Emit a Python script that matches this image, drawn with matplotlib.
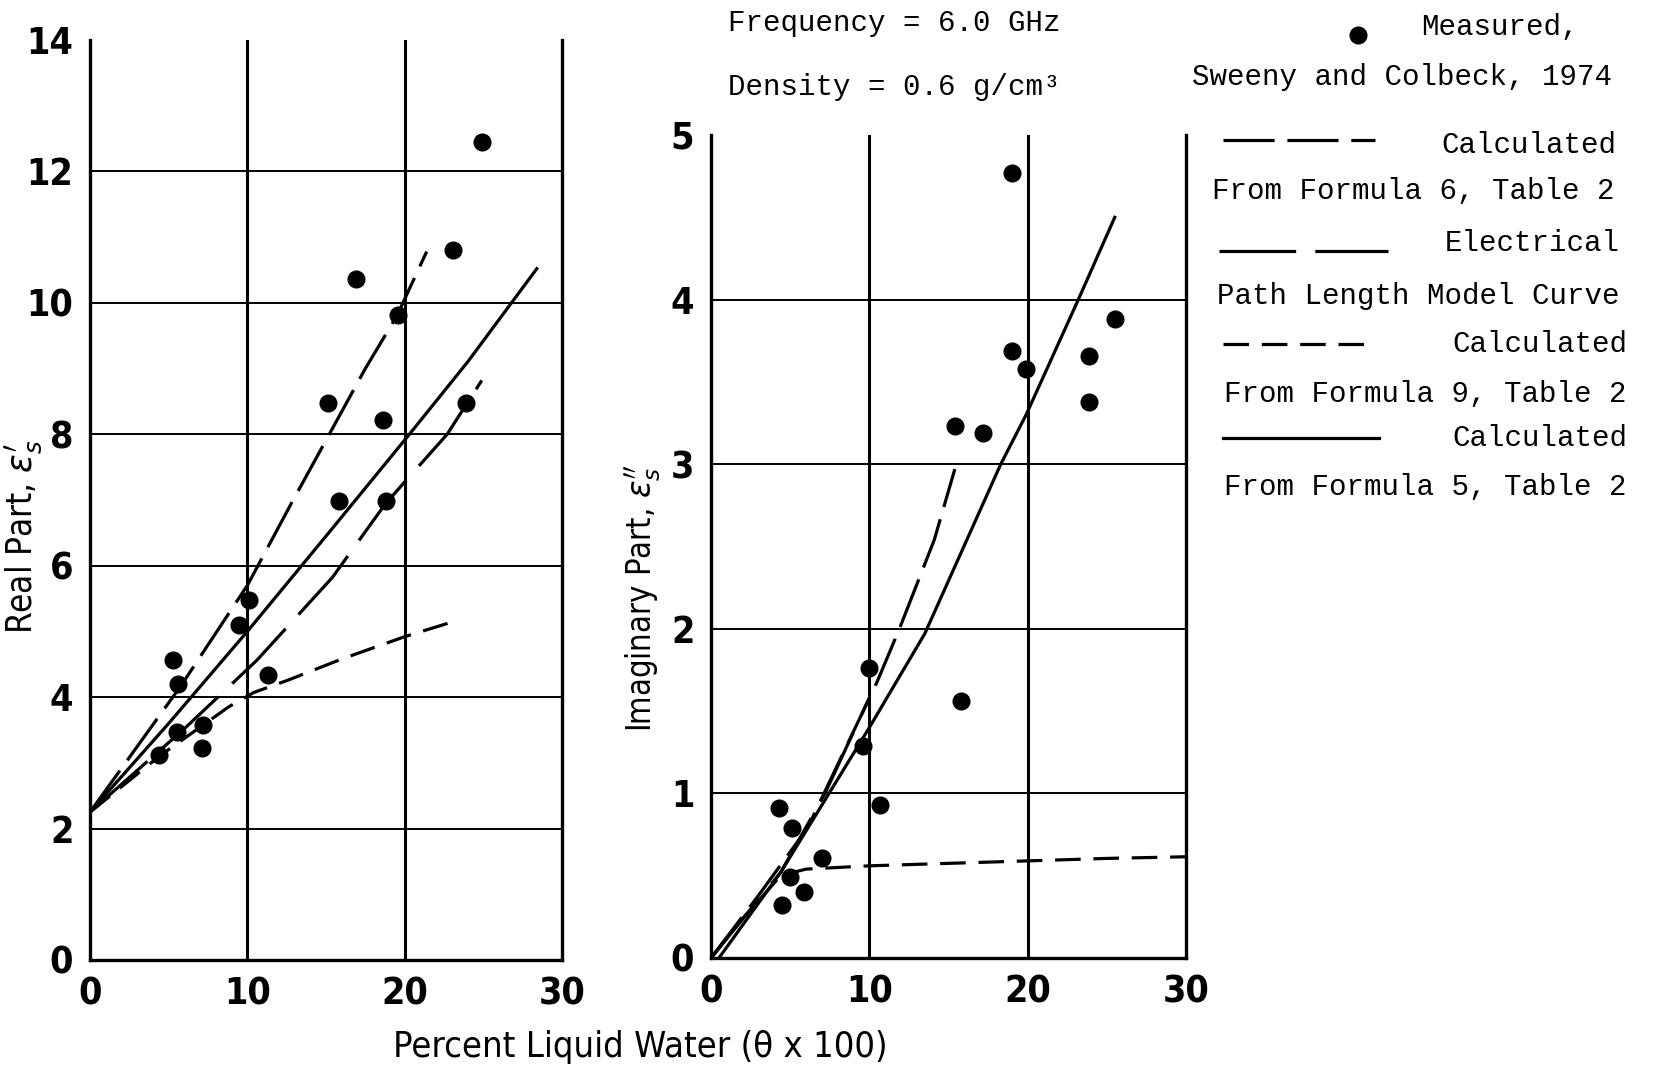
import matplotlib
matplotlib.use("Agg")
import matplotlib.pyplot as plt
from matplotlib.lines import Line2D

W, H = 1659, 1068

# measured points, Sweeny and Colbeck 1974 (percent liquid water)
real_x = [24.9, 23.1, 16.9, 19.6, 15.1, 18.6, 23.9, 15.8, 18.8, 10.1, 9.5, 11.3, 5.3, 5.6, 5.5, 7.2, 7.1, 4.4]
real_y = [12.45, 10.8, 10.37, 9.82, 8.48, 8.22, 8.48, 6.98, 6.98, 5.48, 5.1, 4.33, 4.57, 4.2, 3.47, 3.57, 3.23, 3.12]
imag_x = [19.0, 25.5, 23.9, 19.0, 19.9, 23.9, 15.4, 17.2, 15.8, 10.0, 9.6, 10.7, 4.3, 5.1, 7.0, 5.0, 5.9, 4.5]
imag_y = [4.77, 3.88, 3.66, 3.69, 3.58, 3.38, 3.23, 3.19, 1.56, 1.76, 1.29, 0.93, 0.91, 0.79, 0.61, 0.49, 0.40, 0.32]

# real part curves
real_f6_x = [0, 5.8, 10, 12.8, 17.5, 19.5, 21.4]
real_f6_y = [2.25, 4.18, 5.7, 6.95, 9.0, 9.8, 10.78]
real_epl_x = [0, 6, 10.6, 15.4, 18.8, 22.7, 24.9]
real_epl_y = [2.25, 3.52, 4.56, 5.82, 6.95, 8.0, 8.82]
real_f9_x = [0, 4.4, 8.8, 10.4, 12.6, 16, 20, 23.1]
real_f9_y = [2.25, 3.1, 3.85, 4.07, 4.26, 4.58, 4.92, 5.15]
real_f5_x = [0, 5, 10, 15, 20.3, 24, 28.4]
real_f5_y = [2.25, 3.6, 5.0, 6.45, 8.0, 9.1, 10.52]

# imaginary part curves
imag_f6_x = [0, 3, 6.1, 10.5, 11.9, 14.1, 15.4]
imag_f6_y = [0, 0.38, 0.79, 1.68, 2.0, 2.54, 2.97]
imag_epl_x = [0, 4.4, 7.2, 10]
imag_epl_y = [0, 0.52, 1.0, 1.58]
imag_f9_x = [0, 2, 4.4, 6, 10, 15, 20, 25, 30]
imag_f9_y = [0, 0.24, 0.5, 0.54, 0.56, 0.575, 0.59, 0.605, 0.615]
imag_f5_x = [0.5, 4.4, 10, 13.5, 18.3, 19.9, 23.2, 25.5]
imag_f5_y = [0, 0.52, 1.4, 1.97, 3.0, 3.3, 4.0, 4.5]

x_ticks = [0, 10, 20, 30]
real_ticks = [0, 2, 4, 6, 8, 10, 12, 14]
imag_ticks = [0, 1, 2, 3, 4, 5]

NARROW = ["DejaVu Sans"]
MONO = ["Liberation Mono", "DejaVu Sans Mono"]
LW = 2.3
F6 = (16, 4)
EPL = (24, 6)
F9 = (8, 4)


def fig_xy(x, y):
    return x / W, 1 - y / H


def setup(ax, yticks):
    ax.set_xlim(0, 30)
    ax.set_ylim(yticks[0], yticks[-1])
    ax.set_xticks(x_ticks)
    ax.set_yticks(yticks)
    ax.tick_params(length=0, labelsize=27, pad=12)
    for lab in ax.get_xticklabels() + ax.get_yticklabels():
        lab.set_family(NARROW)
        lab.set_stretch("condensed")
        lab.set_weight("bold")
    ax.spines["top"].set_visible(False)
    for s in ["left", "right", "bottom"]:
        ax.spines[s].set_linewidth(2.4)
    for v in x_ticks[1:-1]:
        ax.axvline(v, color="k", lw=2.2, zorder=1)
    for v in yticks[1:-1]:
        ax.axhline(v, color="k", lw=1.4, zorder=1)


fig = plt.figure(figsize=(W / 100, H / 100), dpi=100)

ax1 = fig.add_axes([90 / W, 1 - 960 / H, 472 / W, 920 / H])
setup(ax1, real_ticks)
ax1.plot(real_f6_x, real_f6_y, color="k", lw=LW, dashes=F6)
ax1.plot(real_epl_x, real_epl_y, color="k", lw=LW, dashes=EPL)
ax1.plot(real_f9_x, real_f9_y, color="k", lw=LW, dashes=F9)
ax1.plot(real_f5_x, real_f5_y, color="k", lw=LW)
ax1.plot(real_x, real_y, "o", color="k", ms=12, zorder=5)
ax1.set_ylabel("Real Part, $\\epsilon_s^{\\prime}$", family=NARROW, stretch="condensed", fontsize=25)
ax1.yaxis.set_label_coords(-0.097, 0.46)

ax2 = fig.add_axes([711 / W, 1 - 958 / H, 475 / W, 823 / H])
setup(ax2, imag_ticks)
ax2.plot(imag_f6_x, imag_f6_y, color="k", lw=LW, dashes=F6)
ax2.plot(imag_epl_x, imag_epl_y, color="k", lw=LW, dashes=EPL)
ax2.plot(imag_f9_x, imag_f9_y, color="k", lw=LW, dashes=F9)
ax2.plot(imag_f5_x, imag_f5_y, color="k", lw=LW)
ax2.plot(imag_x, imag_y, "o", color="k", ms=12, zorder=5)
ax2.set_ylabel("Imaginary Part, $\\epsilon_s^{\\prime\\prime}$", family=NARROW, stretch="condensed", fontsize=23.5)
ax2.yaxis.set_label_coords(-0.099, 0.437)

fig.text(*fig_xy(640, 1047), "Percent Liquid Water (θ x 100)", family=NARROW, stretch="condensed",
         fontsize=26, ha="center", va="center")

# header
fig.text(*fig_xy(728, 23), "Frequency = 6.0 GHz", family=MONO, fontsize=21, va="center")
fig.text(*fig_xy(728, 87), "Density = 0.6 g/cm³", family=MONO, fontsize=21, va="center")

# legend drawn by hand, as in the original
fig.add_artist(Line2D(*zip(fig_xy(1358, 35)), marker="o", ms=12, color="k", ls="none",
                      transform=fig.transFigure))
texts = [
    (1421, 27, "Measured,"),
    (1192, 77, "Sweeny and Colbeck, 1974"),
    (1441, 145, "Calculated"),
    (1212, 191, "From Formula 6, Table 2"),
    (1445, 243, "Electrical"),
    (1217, 296, "Path Length Model Curve"),
    (1452, 344, "Calculated"),
    (1224, 394, "From Formula 9, Table 2"),
    (1452, 438, "Calculated"),
    (1224, 487, "From Formula 5, Table 2"),
]
for x, y, s in texts:
    fig.text(*fig_xy(x, y), s, family=MONO, fontsize=21, va="center")

samples = [(1223, 1375, 140, F6), (1219, 1388, 251, EPL), (1223, 1375, 344, F9), (1223, 1379, 438, None)]
for x0, x1, y, d in samples:
    p0 = fig_xy(x0, y)
    p1 = fig_xy(x1, y)
    ln = Line2D([p0[0], p1[0]], [p0[1], p1[1]], color="k", lw=LW, transform=fig.transFigure)
    if d:
        ln.set_dashes(d)
    fig.add_artist(ln)

fig.savefig("out.png", dpi=100)
